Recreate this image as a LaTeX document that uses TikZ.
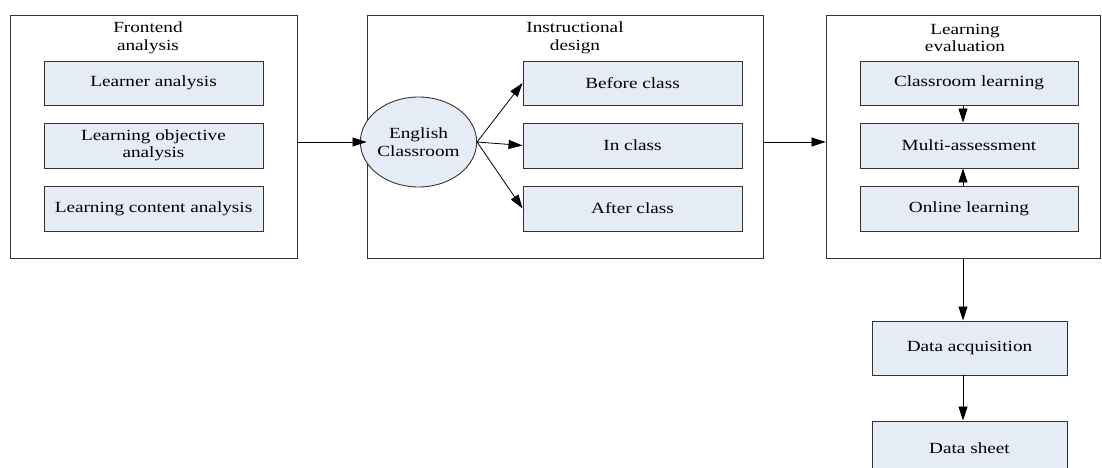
\documentclass[tikz,border=0pt]{standalone}
\usepackage{fontspec}
\setmainfont[FakeStretch=1.24]{Liberation Serif}
\usetikzlibrary{arrows.meta,shapes.geometric}
\definecolor{boxfill}{HTML}{E6ECF6}
\definecolor{edge}{HTML}{333333}
\begin{document}
\begin{tikzpicture}[x=1pt,y=-1pt,
  every node/.style={font=\fontsize{15.5}{17.5}\selectfont, inner sep=0pt, align=center},
  panel/.style={draw=edge, line width=0.9pt, rectangle},
  item/.style={draw=edge, line width=0.9pt, fill=boxfill, rectangle, minimum width=219pt},
  titletext/.style={},
  conn/.style={draw=black, line width=0.8pt, -{Triangle[length=14pt,width=9pt]}}
]
\useasboundingbox (0,0) rectangle (1102,468);
% panels
\node[panel, minimum width=287pt, minimum height=243pt] (fa) at (153.5,136.5) {};
\node[panel, minimum width=396pt, minimum height=243pt] (id) at (565,136.5) {};
\node[panel, minimum width=274pt, minimum height=243pt] (le) at (963,136.5) {};
% titles
\node[titletext] (fat) at (148,38) {Frontend\\analysis};
\node[titletext] (idt) at (575,38) {Instructional\\design};
\node[titletext] (let) at (965,38) {Learning\\evaluation};
% frontend items
\node[item, minimum height=44pt] (la) at (153.5,83) {Learner analysis};
\node[item, minimum height=45pt] (loa) at (153.5,145.5) {Learning objective\\analysis};
\node[item, minimum height=45pt] (lca) at (153.5,208.5) {Learning content analysis};
% instructional design items
\node[ellipse, draw=edge, line width=0.9pt, fill=boxfill, minimum width=97pt, minimum height=90pt] (ec) at (418.5,142) {English\\Classroom};
\node[item, minimum height=44pt] (bc) at (632.5,83) {Before class};
\node[item, minimum height=45pt] (ic) at (632.5,145.5) {In class};
\node[item, minimum height=45pt] (ac) at (632.5,208.5) {After class};
% evaluation items
\node[item, minimum height=44pt, minimum width=218pt] (cl) at (969,83) {Classroom learning};
\node[item, minimum height=45pt, minimum width=218pt] (ma) at (969,145.5) {Multi-assessment};
\node[item, minimum height=45pt, minimum width=218pt] (ol) at (969,208.5) {Online learning};
% data
\node[item, minimum width=195pt, minimum height=54pt] (da) at (969.5,348) {Data acquisition};
\node[item, minimum width=195pt, minimum height=54pt] (ds) at (969.5,448) {Data sheet};
% connectors
\draw[conn] (fa.east |- ec.east) -- (id.west |- ec.east);
\draw[conn] (id.east |- ec.east) -- (le.west |- ec.east);
\draw[conn] (ec.east) -- (bc.west);
\draw[conn] (ec.east) -- (ic.west);
\draw[conn] (ec.east) -- (ac.west);
\draw[conn] (cl.south -| le.south) -- (ma.north -| le.south);
\draw[conn] (ol.north -| le.south) -- (ma.south -| le.south);
\draw[conn] (le.south) -- (da.north -| le.south);
\draw[conn] (da.south -| le.south) -- (ds.north -| le.south);
\end{tikzpicture}
\end{document}
